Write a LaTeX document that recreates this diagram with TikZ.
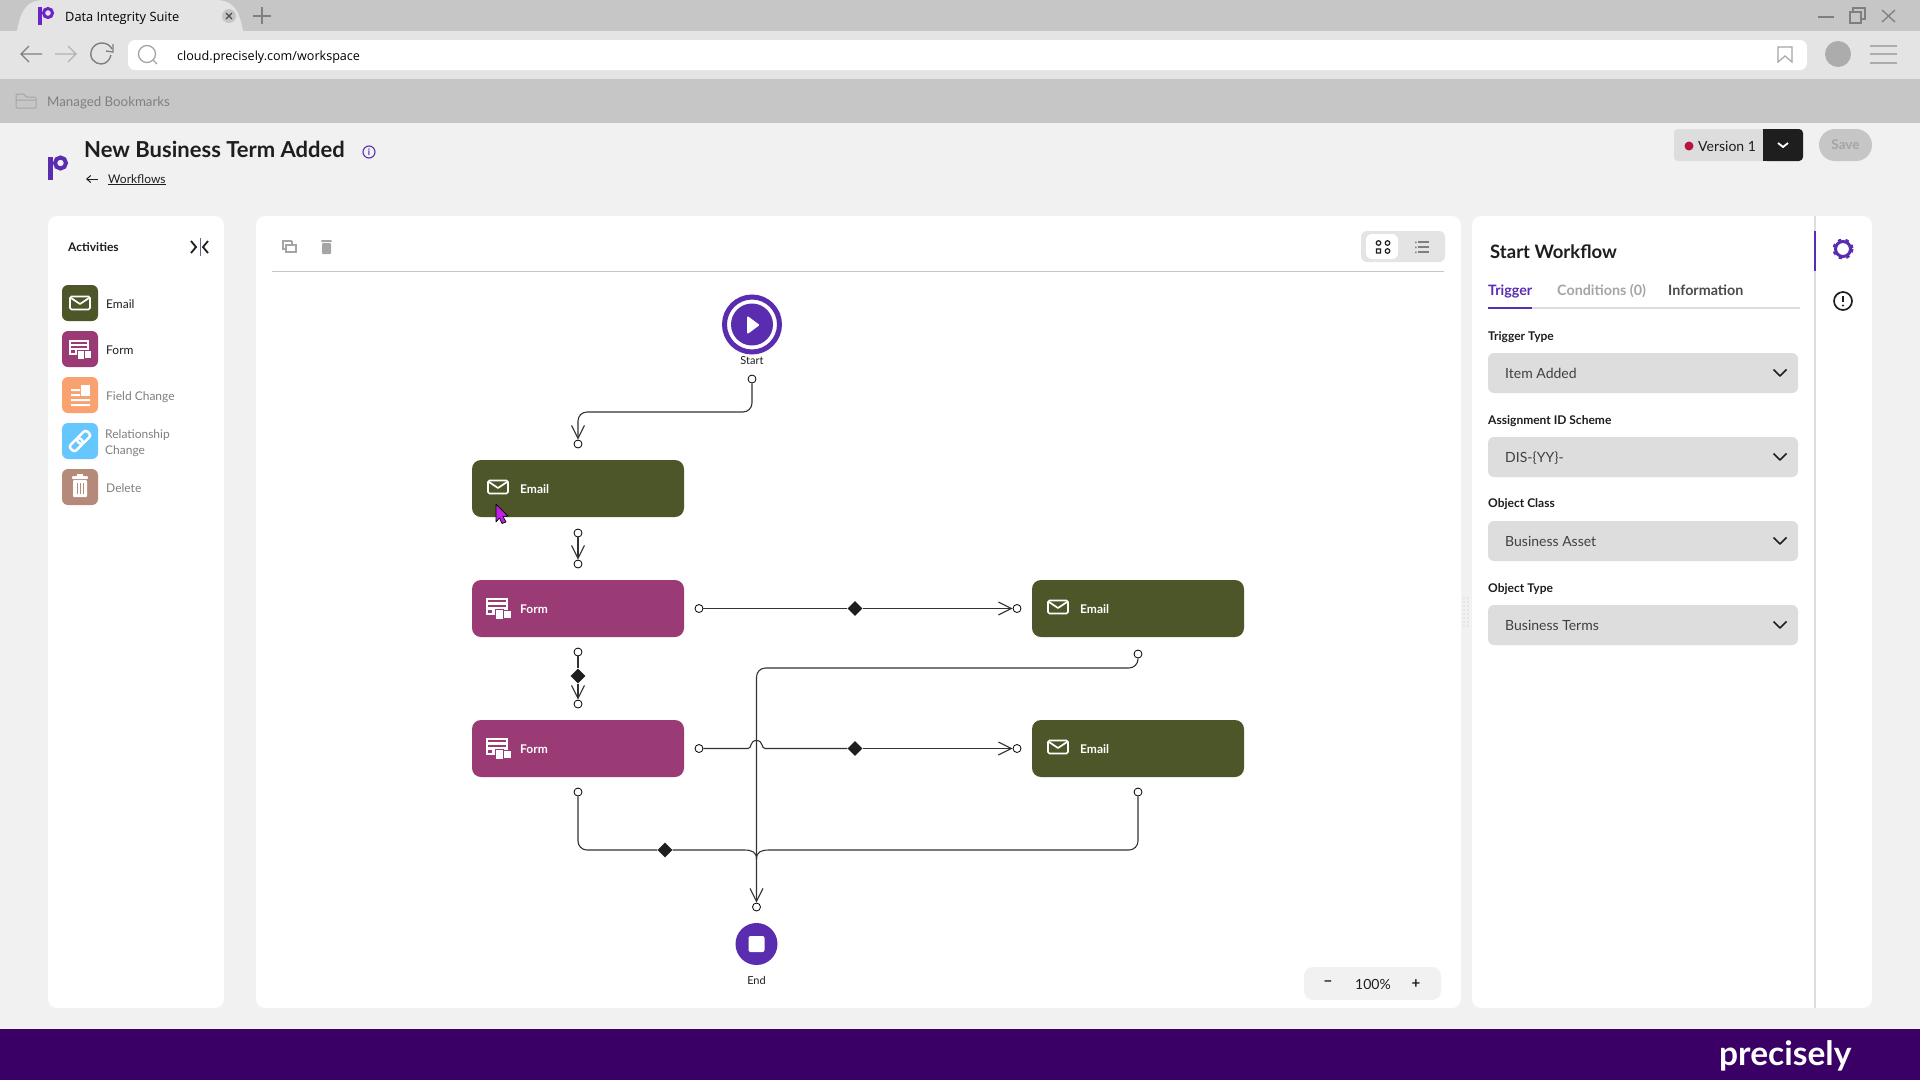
\documentclass[tikz,border=0pt]{standalone}
\usepackage{fontspec}
\setmainfont{Lato}
\newfontfamily\chromefont{Open Sans}
\usepackage{tikz}
\usetikzlibrary{arrows.meta,shapes.geometric}
\newcommand{\pxfont}[1]{\fontsize{#1}{#1}\selectfont}
\definecolor{pagebg}{HTML}{F1F1F1}
\definecolor{chromebar}{HTML}{C6C6C6}
\definecolor{chromelight}{HTML}{E4E4E4}
\definecolor{footerpurple}{HTML}{3A0066}
\definecolor{eventpurple}{HTML}{5A2CB0}
\definecolor{tabpurple}{HTML}{6C23C8}
\definecolor{mailgreen}{HTML}{4D5628}
\definecolor{formplum}{HTML}{9B3B75}
\definecolor{fieldorange}{HTML}{F9A16F}
\definecolor{linkblue}{HTML}{66C7FF}
\definecolor{trashbrown}{HTML}{B58A7A}
\definecolor{fieldgrey}{HTML}{DDDDDD}
\definecolor{inkdark}{HTML}{1E1E1E}
\definecolor{inkmuted}{HTML}{7F7F7F}
\definecolor{wiregrey}{HTML}{333333}
\definecolor{versiondot}{HTML}{B8123F}
\definecolor{cursorpink}{HTML}{C01FE8}
\tikzset{
  wire/.style={draw=wiregrey,line width=1.1pt},
  wirearrow/.style={wire,-{Straight Barb[length=13pt,width=13pt]}},
  port/.style={circle,draw=black,fill=white,line width=0.8pt,minimum size=8pt,inner sep=0pt},
  gate/.style={diamond,fill=inkdark,minimum width=15pt,minimum height=15pt,inner sep=0pt},
  taskbox/.style={rounded corners=9pt,minimum width=212pt,minimum height=57pt,inner sep=0pt},
  tile/.style={rounded corners=6pt,minimum width=36pt,minimum height=36pt,inner sep=0pt},
  txt/.style={anchor=mid west,inner sep=0pt,yshift=-#1},
  txt/.default=2.5pt,
  tasklabel/.style={txt,text=white,font={\pxfont{12}\bfseries}},
  rowlabel/.style={txt,font={\pxfont{12}}},
  fieldlabel/.style={txt,text=inkdark,font={\pxfont{12}\bfseries}},
  fieldvalue/.style={txt,text=inkdark!85,font={\pxfont{14}}},
  fieldbox/.style={fill=fieldgrey,rounded corners=6pt},
  mailicon/.pic={
    \draw[white,line width=1.7pt,rounded corners=1.5pt] (-10,-6.5) rectangle (10,6.5);
    \draw[white,line width=1.7pt,line join=round] (-9,-5) -- (0,1) -- (9,-5);
  },
  formicon/.pic={
    \fill[white] (-12.5,-10.5) rectangle (10,7);
    \fill[#1] (-10,-8) rectangle (8,-6);
    \fill[#1] (-10,-3.5) rectangle (8,-1.5);
    \fill[#1] (-10,1.5) rectangle (-6,4.5);
    \fill[white,draw=#1,line width=0.8pt] (-3,1) rectangle (5,11);
    \fill[white,draw=#1,line width=0.8pt] (5,2) rectangle (13,10);
  },
  chevron/.pic={
    \draw[inkdark,line width=1.5pt,line join=round] (-6.5,-3.5) -- (0,3) -- (6.5,-3.5);
  },
}
\begin{document}
\begin{tikzpicture}[x=1pt,y=-1pt]
\useasboundingbox (0,0) rectangle (1920,1080);
\fill[pagebg] (0,0) rectangle (1920,1080);

\fill[chromebar] (0,0) rectangle (1920,31);
\fill[chromelight] (0,31) rectangle (1920,79);
\fill[chromebar] (0,79) rectangle (1920,123);
\fill[chromelight] (17,31) .. controls (21,8) and (28,0) .. (45,0) -- (215,0) .. controls (232,0) and (239,8) .. (243,31) -- cycle;
\fill[tabpurple] (38,7) rectangle (42,25);
\draw[tabpurple,line width=3pt] (48,13) circle (4.5);
\node[txt,text=black,font={\chromefont\pxfont{12.8}}] (tabTitle) at (65,16) {Data Integrity Suite};
\fill[chromebar] (229,16) circle (7);
\draw[inkdark!80,line width=1.2pt] (226,13) -- (232,19) (232,13) -- (226,19);
\draw[inkmuted,line width=1.2pt] (262,7) -- (262,24) (253,16) -- (271,16);
\draw[inkmuted,line width=1.4pt] (42,54) -- (21,54) (29,46) -- (21,54) -- (29,62);
\draw[inkmuted!60,line width=1.4pt] (55,54) -- (76,54) (68,46) -- (76,54) -- (68,62);
\draw[inkmuted,line width=1.4pt] (112,49) .. controls (108,41) and (96,41) .. (92,49) .. controls (88,58) and (95,64) .. (101,64) .. controls (106,64) and (110,60) .. (111,55);
\draw[inkmuted,line width=1.4pt] (106,51) -- (113,52) -- (113,44);
\fill[white,rounded corners=7pt] (128,40) rectangle (1807,70);
\draw[inkmuted!70,line width=1.3pt] (147,54) circle (8.5) (153,60) -- (157,64);
\node[txt,text=black,font={\chromefont\pxfont{12.6}}] (urlText) at (177,55) {cloud.precisely.com/workspace};
\draw[inkmuted!70,line width=1.2pt] (1778,47) -- (1792,47) -- (1792,62) -- (1785,56) -- (1778,62) -- cycle;
\fill[inkmuted!65] (1838,54) circle (13);
\draw[inkmuted!65,line width=1.3pt] (1870,46) -- (1897,46) (1870,54) -- (1897,54) (1870,63) -- (1897,63);
\draw[inkmuted,line width=1.2pt] (1818,17) -- (1834,17);
\draw[inkmuted,line width=1.2pt] (1850,12) rectangle (1861,23) (1853,12) -- (1853,8) -- (1865,8) -- (1865,19) -- (1861,19);
\draw[inkmuted,line width=1.3pt] (1882,10) -- (1895,22) (1895,10) -- (1882,22);
\draw[inkmuted!70,line width=1pt,rounded corners=1pt] (16,108) -- (16,94) -- (24,94) -- (26,97) -- (36,97) -- (36,108) -- cycle (16,100) -- (35,100);
\node[txt,text=inkmuted,font={\pxfont{13.3}}] (bookmarks) at (47,101) {Managed Bookmarks};

\fill[eventpurple] (48,157) rectangle (52.5,180);
\draw[eventpurple,line width=4pt] (60.5,163) circle (5.5);
\node[txt=5pt,text=inkdark,font={\pxfont{22}\bfseries}] (pageTitle) at (84,150) {New Business Term Added};
\draw[eventpurple,line width=1.1pt] (369,152) circle (6);
\node[text=eventpurple,inner sep=0pt,font={\pxfont{9}\bfseries}] (infoMark) at (369,152) {i};
\draw[inkdark,line width=1pt,-{Straight Barb[length=4pt,width=7pt]}] (98,179) -- (86,179);
\node[txt,text=inkdark,font={\pxfont{12}}] (backLink) at (108,178.5) {Workflows};
\draw[inkdark,line width=0.7pt] (108,184.5) -- (166,184.5);
\fill[fieldgrey,rounded corners=4pt] (1674,129) rectangle (1775,161);
\fill[inkdark,rounded corners=4pt] (1763,129) rectangle (1803,161);
\fill[inkdark] (1763,129) rectangle (1770,161);
\fill[versiondot] (1689,146) circle (4.5);
\node[txt,text=inkdark,font={\pxfont{14}}] (versionText) at (1698,146) {Version 1};
\draw[white,line width=1.8pt] (1778,143) -- (1783,147) -- (1788,143);
\fill[chromebar,rounded corners=16pt] (1819,129) rectangle (1872,161);
\node[text=inkmuted!70,inner sep=0pt,font={\pxfont{13.5}\bfseries}] (saveText) at (1845.5,145) {Save};

\fill[white,rounded corners=9pt] (48,216) rectangle (224,1008);
\fill[white,rounded corners=9pt] (256,216) rectangle (1461,1008);
\fill[white,rounded corners=9pt] (1472,216) rectangle (1872,1008);

\node[txt=2pt,text=inkdark,font={\pxfont{12}\bfseries}] (activitiesTitle) at (68,247) {Activities};
\draw[inkdark,line width=1.8pt] (191,241) -- (196,247) -- (191,253);
\draw[inkdark,line width=1.8pt] (208,241) -- (203,247) -- (208,253);
\draw[inkmuted!80!blue,line width=1pt] (200,238) -- (200,256);
\node[tile,fill=mailgreen] (tileEmail) at (80,303) {};
\pic at (80,303) {mailicon};
\node[rowlabel,text=inkdark] (rowEmail) at (106,303) {Email};
\node[tile,fill=formplum] (tileForm) at (80,349) {};
\pic[scale=0.9] at (80,349) {formicon=formplum};
\node[rowlabel,text=inkdark] (rowForm) at (106,349) {Form};
\node[tile,fill=fieldorange] (tileField) at (80,395) {};
\fill[white] (71,389) rectangle (80,391) (71,394) rectangle (80,396) (71,399) rectangle (90,401) (71,404) rectangle (90,406);
\fill[white] (81,385) rectangle (90,396);
\node[rowlabel,text=inkmuted] (rowField) at (106,395) {Field Change};
\node[tile,fill=linkblue] (tileLink) at (80,441) {};
\draw[white,line width=2.5pt,rounded corners=3pt,rotate around={45:(80,441)}] (68,437) rectangle (82,445) (78,437) rectangle (92,445);
\node[rowlabel,text=inkmuted] (rowLinkA) at (105,433) {Relationship};
\node[rowlabel,text=inkmuted] (rowLinkB) at (105,449) {Change};
\node[tile,fill=trashbrown] (tileDelete) at (80,487) {};
\fill[white,rounded corners=1pt] (73,480) rectangle (87,497);
\fill[white,rounded corners=1pt] (72,476) rectangle (88,479);
\fill[white] (77,474) rectangle (83,477);
\draw[trashbrown,line width=0.8pt] (77,483) -- (77,494) (80,483) -- (80,494) (83,483) -- (83,494);
\node[rowlabel,text=inkmuted] (rowDelete) at (106,487) {Delete};

\draw[inkmuted!70,line width=1.2pt] (283,246) -- (283,241) -- (292,241) (286,245) rectangle (296,252);
\draw[inkmuted!70,line width=1.2pt] (283,246) -- (283,249) -- (286,249) (292,241) -- (292,245);
\fill[inkmuted!70,rounded corners=1pt] (322,243) rectangle (331,254) (321,240) rectangle (332,242);
\draw[chromebar,line width=1pt] (272,271) -- (1444,271);
\fill[fieldgrey!80,rounded corners=6pt] (1361,231) rectangle (1445,262);
\fill[white,rounded corners=6pt] (1366,234) rectangle (1398,259);
\draw[inkdark,line width=1.2pt] (1378.5,243) circle (2.3) (1387.5,243) circle (2.3) (1376.5,249) rectangle (1380.5,253) (1387.5,251) circle (2.3);
\draw[inkmuted,line width=1.2pt] (1418,242) -- (1429,242) (1418,247) -- (1429,247) (1418,252) -- (1429,252);
\fill[inkmuted] (1415,241.5) rectangle (1416.5,243) (1415,246.5) rectangle (1416.5,248) (1415,251.5) rectangle (1416.5,253);
\fill[pagebg,rounded corners=9pt] (1304,967) rectangle (1441,1000);
\node[text=inkdark,inner sep=0pt,font={\pxfont{15}\bfseries}] (zoomMinus) at (1328,984) {−};
\node[text=inkdark,inner sep=0pt,font={\pxfont{14}}] (zoomValue) at (1373,984.5) {100\%};
\node[text=inkdark,inner sep=0pt,font={\pxfont{15}\bfseries}] (zoomPlus) at (1416,984) {+};

\node[circle,fill=white,draw=eventpurple,line width=5pt,minimum size=55pt,inner sep=0pt] (startRing) at (752,324.5) {};
\node[circle,fill=eventpurple,minimum size=42pt,inner sep=0pt] (startDisc) at (752,324.5) {};
\fill[white,draw=white,line width=2pt,line join=round] (748,317.5) -- (748,332.5) -- (758,325) -- cycle;
\node[text=inkdark,inner sep=0pt,font={\pxfont{11}}] (startLabel) at (752,361) {Start};

\node[taskbox,fill=mailgreen] (emailOne) at (578,488.5) {};
\pic at (498,487) {mailicon};
\node[tasklabel] (emailOneText) at (520,488.5) {Email};
\node[taskbox,fill=formplum] (formOne) at (578,608.5) {};
\pic at (498,608) {formicon=formplum};
\node[tasklabel] (formOneText) at (520,608.5) {Form};
\node[taskbox,fill=formplum] (formTwo) at (578,748.5) {};
\pic at (498,748) {formicon=formplum};
\node[tasklabel] (formTwoText) at (520,748.5) {Form};
\node[taskbox,fill=mailgreen] (emailTwo) at (1138,608.5) {};
\pic at (1058,607) {mailicon};
\node[tasklabel] (emailTwoText) at (1080,608.5) {Email};
\node[taskbox,fill=mailgreen] (emailThree) at (1138,748.5) {};
\pic at (1058,747) {mailicon};
\node[tasklabel] (emailThreeText) at (1080,748.5) {Email};

\node[circle,fill=eventpurple,minimum size=42pt,inner sep=0pt] (endDisc) at (756.5,944) {};
\fill[white,rounded corners=2pt] (748.5,936) rectangle (764.5,952);
\node[text=inkdark,inner sep=0pt,font={\pxfont{11}}] (endLabel) at (756.5,980) {End};

\node[port] (startOut) at (752,379) {};
\node[port] (emailOneIn) at (578,444) {};
\node[port] (emailOneOut) at (578,533) {};
\node[port] (formOneIn) at (578,564) {};
\node[port] (formOneOut) at (578,652) {};
\node[port] (formOneRight) at (699,608.5) {};
\node[port] (emailTwoIn) at (1017,608.5) {};
\node[port] (formTwoIn) at (578,704) {};
\node[port] (formTwoRight) at (699,748.5) {};
\node[port] (emailThreeIn) at (1017,748.5) {};
\node[port] (formTwoOut) at (578,792) {};
\node[port] (emailTwoOut) at (1138,654) {};
\node[port] (emailThreeOut) at (1138,792) {};
\node[port] (endIn) at (756.5,907) {};

\node[gate] (gateDown) at (578,676) {};
\node[gate] (gateUpper) at (855,608.5) {};
\node[gate] (gateLower) at (855,748.5) {};
\node[gate] (gateMerge) at (665,850) {};

\coordinate (bendStart) at (578,412);
\coordinate (bendTop) at (756.5,668);
\coordinate (bendEmail) at (1138,850);
\coordinate (mergeLeft) at (744,850);
\coordinate (mergeRight) at (769,850);
\coordinate (mergeEnd) at (756.5,859);
\coordinate (hopLeft) at (748,748.5);
\coordinate (hopTop) at (756.5,740.5);
\coordinate (hopRight) at (765,748.5);

\draw[wirearrow,rounded corners=9pt] (startOut) |- (bendStart) -- (emailOneIn);
\draw[wirearrow] (emailOneOut) -- (formOneIn);
\draw[wire] (formOneOut) -- (gateDown);
\draw[wirearrow] (gateDown) -- (formTwoIn);
\draw[wire] (formOneRight) -- (gateUpper);
\draw[wirearrow] (gateUpper) -- (emailTwoIn);
\draw[wire] (formTwoRight) -- (hopLeft) .. controls (752,748.5) and (749.5,740.5) .. (hopTop) .. controls (763.5,740.5) and (761,748.5) .. (hopRight) -- (gateLower);
\draw[wirearrow] (gateLower) -- (emailThreeIn);
\draw[wire,rounded corners=9pt] (formTwoOut) |- (gateMerge);
\draw[wire] (gateMerge) -- (mergeLeft) .. controls (752,850) and (756.5,852) .. (mergeEnd);
\draw[wire,rounded corners=9pt] (emailThreeOut) -- (bendEmail) -- (mergeRight);
\draw[wire] (mergeRight) .. controls (761,850) and (756.5,852) .. (mergeEnd);
\draw[wirearrow,rounded corners=9pt] (emailTwoOut) |- (bendTop) -- (endIn);

\fill[cursorpink,draw=black,line width=0.7pt,line join=round] (496,504) -- (508,516) -- (503,516.5) -- (506,522) -- (502,523.5) -- (499.5,518) -- (496,522) -- cycle;

\draw[fieldgrey!80,line width=2pt,dash pattern=on 2pt off 2pt] (1464,597) -- (1464,628) (1468,597) -- (1468,628);

\draw[fieldgrey,line width=1.5pt] (1815,216) -- (1815,1008);
\draw[eventpurple,line width=2pt] (1815,231) -- (1815,271);
\draw[eventpurple,line width=3pt] (1843,249) circle (7.5);
\draw[eventpurple,line width=2pt,dash pattern=on 3.5pt off 4.35pt] (1843,249) circle (9.5);
\draw[inkdark,line width=1.7pt] (1843,301) circle (9);
\draw[inkdark,line width=2pt] (1843,296) -- (1843,302);
\fill[inkdark] (1843,305.5) circle (1.2);

\node[txt=5pt,text=inkdark,font={\pxfont{18.5}\bfseries}] (panelTitle) at (1490,251) {Start Workflow};
\node[txt=3.5pt,text=eventpurple,font={\pxfont{14.3}\bfseries}] (tabTrigger) at (1488,289) {Trigger};
\node[txt=3.5pt,text=inkmuted!70,font={\pxfont{14.3}\bfseries}] (tabConditions) at (1557,289) {Conditions (0)};
\node[txt=3.5pt,text=inkdark!80,font={\pxfont{14.3}\bfseries}] (tabInformation) at (1668,289) {Information};
\draw[fieldgrey,line width=1.5pt] (1488,308) -- (1800,308);
\draw[eventpurple,line width=2pt] (1488,308) -- (1532,308);

\node[fieldlabel] (labelTrigger) at (1488,335) {Trigger Type};
\fill[fieldbox] (1488,353) rectangle (1798,393);
\node[fieldvalue] (valueTrigger) at (1505,373) {Item Added};
\pic at (1780,373) {chevron};
\node[fieldlabel] (labelScheme) at (1488,419) {Assignment ID Scheme};
\fill[fieldbox] (1488,437) rectangle (1798,477);
\node[fieldvalue] (valueScheme) at (1505,457) {DIS-\{YY\}-};
\pic at (1780,457) {chevron};
\node[fieldlabel] (labelClass) at (1488,502) {Object Class};
\fill[fieldbox] (1488,521) rectangle (1798,561);
\node[fieldvalue] (valueClass) at (1505,541) {Business Asset};
\pic at (1780,541) {chevron};
\node[fieldlabel] (labelType) at (1488,587) {Object Type};
\fill[fieldbox] (1488,605) rectangle (1798,645);
\node[fieldvalue] (valueType) at (1505,625) {Business Terms};
\pic at (1780,625) {chevron};

\fill[footerpurple] (0,1029) rectangle (1920,1080);
\node[txt=8.5pt,text=white,font={\pxfont{33.5}\bfseries}] (footerBrand) at (1719,1054) {precisely};
\end{tikzpicture}
\end{document}
